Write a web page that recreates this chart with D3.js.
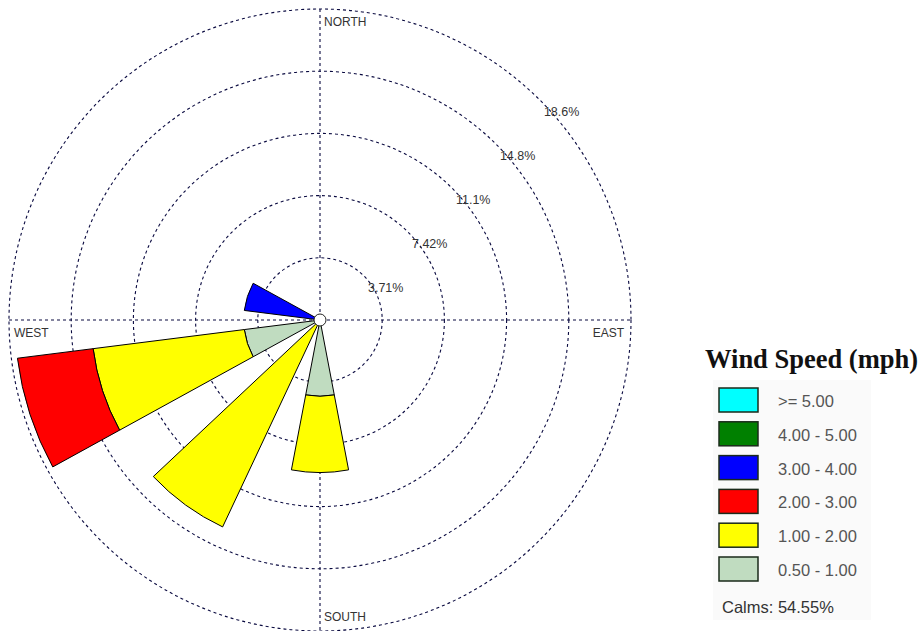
<!DOCTYPE html>
<html>
<head>
<meta charset="utf-8">
<script src="https://cdn.jsdelivr.net/npm/d3@7"></script>
<style>
  html, body { margin: 0; padding: 0; background: #fff; }
  svg { display: block; }
</style>
</head>
<body>
<svg id="chart" width="924" height="631"></svg>
<script>
// directions (bearing, degrees clockwise from north) - 10 sectors
const directions = [0, 36, 72, 108, 144, 180, 216, 252, 288, 324];

// speed bins, drawn from the centre outward
const speedBins = ["0.50 - 1.00", "1.00 - 2.00", "2.00 - 3.00", "3.00 - 4.00", "4.00 - 5.00", ">= 5.00"];
const binColors = ["#c0dcc0", "#ffff00", "#ff0000", "#0000ff", "#008000", "#00ffff"];

// percent of observations, one array per speed bin, indexed like directions
const bin050_100 = [0, 0, 0, 0, 0, 4.55, 0, 4.55, 0, 0];
const bin100_200 = [0, 0, 0, 0, 0, 4.55, 13.64, 9.09, 0, 0];
const bin200_300 = [0, 0, 0, 0, 0, 0, 0, 4.55, 0, 0];
const bin300_400 = [0, 0, 0, 0, 0, 0, 0, 0, 4.55, 0];
const bin400_500 = [0, 0, 0, 0, 0, 0, 0, 0, 0, 0];
const bin500_up  = [0, 0, 0, 0, 0, 0, 0, 0, 0, 0];
const binValues = [bin050_100, bin100_200, bin200_300, bin300_400, bin400_500, bin500_up];

// ring values and labels
const ringValues = [3.71, 7.42, 11.13, 14.84, 18.55];
const ringLabels = ["3.71%", "7.42%", "11.1%", "14.8%", "18.6%"];
const calms = "Calms: 54.55%";
const dirLabels = ["NORTH", "EAST", "SOUTH", "WEST"];

const svg = d3.select("#chart");
const cx = 320, cy = 320, R = 311;
const gridColor = "#0a0a40";

const r = d3.scaleLinear().domain([0, d3.max(ringValues)]).range([0, R]);
const toRad = d => d * Math.PI / 180;
const sectorWidth = 360 / directions.length * 0.6;

const g = svg.append("g").attr("transform", `translate(${cx},${cy})`);

// grid rings
g.selectAll(".ring")
  .data(ringValues)
  .join("circle")
    .attr("class", "ring")
    .attr("r", d => r(d))
    .attr("fill", "none")
    .attr("stroke", gridColor)
    .attr("stroke-width", 1.1)
    .attr("stroke-dasharray", "3,3");

// cross axes
g.append("line")
  .attr("x1", -R).attr("x2", R).attr("y1", 0).attr("y2", 0)
  .attr("stroke", gridColor).attr("stroke-width", 1.1).attr("stroke-dasharray", "3,3");
g.append("line")
  .attr("x1", 0).attr("x2", 0).attr("y1", -R).attr("y2", R)
  .attr("stroke", gridColor).attr("stroke-width", 1.1).attr("stroke-dasharray", "3,3");

// stacked petals
const arc = d3.arc();
const petals = [];
directions.forEach((dir, i) => {
  let inner = 0;
  binValues.forEach((vals, b) => {
    const v = vals[i];
    if (v > 0) {
      petals.push({ dir, b, inner, outer: inner + v });
      inner += v;
    }
  });
});

g.selectAll(".petal")
  .data(petals)
  .join("path")
    .attr("class", "petal")
    .attr("d", d => arc({
      innerRadius: r(d.inner),
      outerRadius: r(d.outer),
      startAngle: toRad(d.dir - sectorWidth / 2),
      endAngle: toRad(d.dir + sectorWidth / 2)
    }))
    .attr("fill", d => binColors[d.b])
    .attr("stroke", "#000")
    .attr("stroke-width", 1)
    .attr("stroke-linejoin", "round");

// calm circle in the middle
g.append("circle")
  .attr("r", 6)
  .attr("fill", "#fff")
  .attr("stroke", "#222")
  .attr("stroke-width", 1);

// ring labels, at 45 degrees
const a45 = Math.PI / 4;
g.selectAll(".ringLabel")
  .data(ringValues)
  .join("text")
    .attr("class", "ringLabel")
    .attr("x", d => r(d) * Math.sin(a45) + 4)
    .attr("y", d => -r(d) * Math.cos(a45) + 16)
    .text((d, i) => ringLabels[i])
    .attr("font-family", "'Liberation Sans', Arial, sans-serif")
    .attr("font-size", 12.5)
    .attr("fill", "#333");

// compass labels
const lab = { "font-family": "'Liberation Sans', Arial, sans-serif", "font-size": 12, "fill": "#333" };
function compass(txt, x, y, anchor) {
  const t = g.append("text").attr("x", x).attr("y", y).attr("text-anchor", anchor).text(txt);
  Object.entries(lab).forEach(([k, v]) => t.attr(k, v));
}
compass(dirLabels[0], 4, -R + 17, "start");
compass(dirLabels[1], R - 7, 17, "end");
compass(dirLabels[2], 4, R - 10, "start");
compass(dirLabels[3], -R + 5, 17, "start");

// legend
const legend = svg.append("g");
legend.append("text")
  .attr("x", 705)
  .attr("y", 368)
  .text("Wind Speed (mph)")
  .attr("font-family", "'Liberation Serif', 'Times New Roman', serif")
  .attr("font-weight", "bold")
  .attr("font-size", 26.5)
  .attr("fill", "#111");

legend.append("rect")
  .attr("x", 713).attr("y", 380)
  .attr("width", 158).attr("height", 240)
  .attr("fill", "#fafafa");

const legendOrder = d3.range(speedBins.length).reverse();
const rowY = d3.scaleLinear().domain([0, 5]).range([388, 557]);

const rows = legend.selectAll(".row")
  .data(legendOrder)
  .join("g")
    .attr("class", "row")
    .attr("transform", (d, i) => `translate(0,${rowY(i)})`);

rows.append("rect")
  .attr("x", 719).attr("y", 0)
  .attr("width", 39).attr("height", 24)
  .attr("fill", d => binColors[d])
  .attr("stroke", "#1a2a1a")
  .attr("stroke-width", 1.5);

rows.append("text")
  .attr("x", 778)
  .attr("y", 19)
  .text(d => speedBins[d])
  .attr("font-family", "'Liberation Sans', Arial, sans-serif")
  .attr("font-size", 16.5)
  .attr("fill", "#555");

legend.append("text")
  .attr("x", 722)
  .attr("y", 613)
  .text(calms)
  .attr("font-family", "'Liberation Sans', Arial, sans-serif")
  .attr("font-size", 16.5)
  .attr("fill", "#333");
</script>
</body>
</html>
